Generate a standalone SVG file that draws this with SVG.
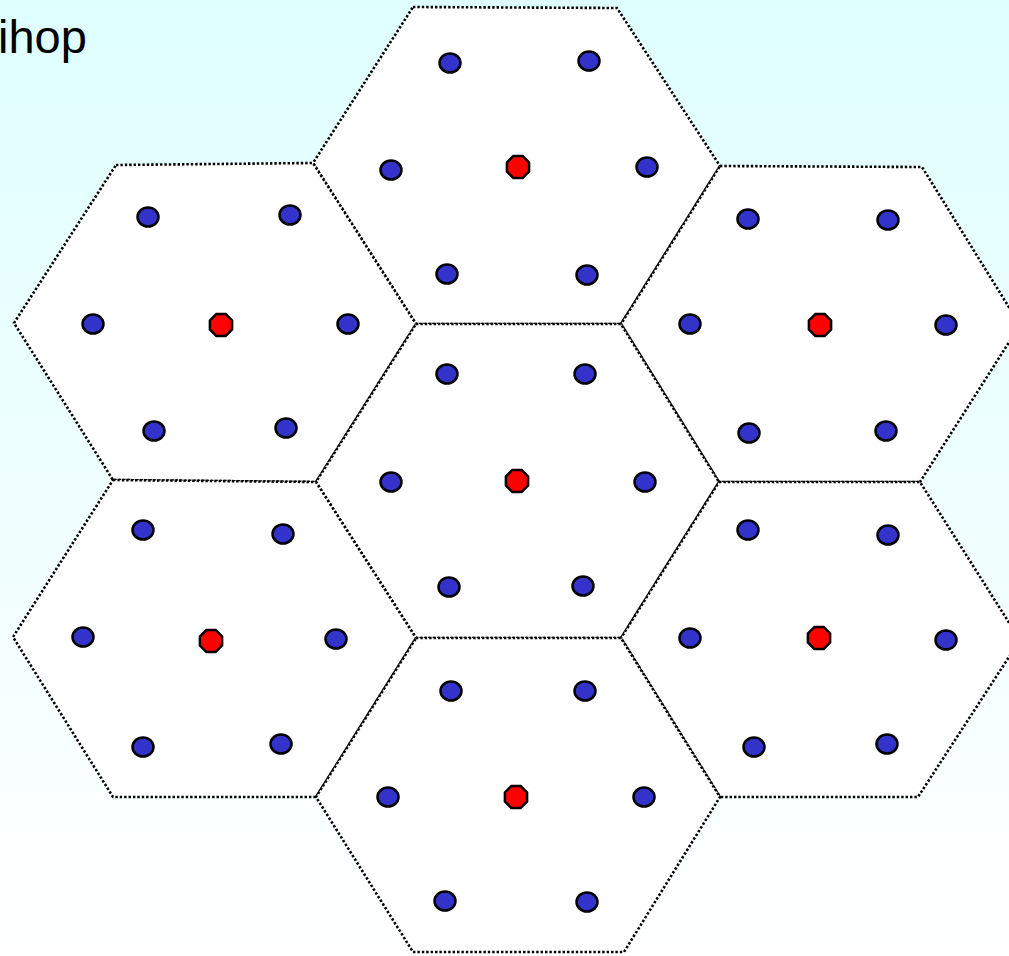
<svg xmlns="http://www.w3.org/2000/svg" width="1009" height="956" viewBox="0 0 1009 956">
<defs>
<linearGradient id="bg" x1="0" y1="0" x2="0" y2="1">
<stop offset="0" stop-color="#DFFFFF"/>
<stop offset="1" stop-color="#FFFFFF"/>
</linearGradient>
<style>
.hex{fill:#FFFFFF;stroke:#000;stroke-width:2.6;stroke-dasharray:2.4 2;}
.node{fill:#3333CC;stroke:#000;stroke-width:2.5;}
.head{fill:#FF0000;stroke:#000;stroke-width:2.5;}
.lbl{font-family:"Liberation Sans",Arial,sans-serif;font-size:47px;fill:#000;}
</style>
<polygon id="oct" points="4.6,-11.1 11.1,-4.6 11.1,4.6 4.6,11.1 -4.6,11.1 -11.1,4.6 -11.1,-4.6 -4.6,-11.1"/>
</defs>
<rect x="0" y="0" width="1009" height="956" fill="url(#bg)"/>
<text class="lbl" x="-2" y="53">ihop</text>

<g id="hex-top">
<polygon class="hex" points="413,7 617,8 720,166 621,324 416,324 313,163"/>
<ellipse class="node" cx="450" cy="63" rx="10.5" ry="9.5"/>
<ellipse class="node" cx="589" cy="61" rx="10.5" ry="9.5"/>
<ellipse class="node" cx="391" cy="170" rx="10.5" ry="9.5"/>
<ellipse class="node" cx="647" cy="167" rx="10.5" ry="9.5"/>
<ellipse class="node" cx="447" cy="274" rx="10.5" ry="9.5"/>
<ellipse class="node" cx="587" cy="275" rx="10.5" ry="9.5"/>
<use href="#oct" class="head" x="518" y="167"/>
</g>

<g id="hex-left-top">
<polygon class="hex" points="116,165 313,163 416,324 316,482 113,480 14,323"/>
<ellipse class="node" cx="148" cy="217" rx="10.5" ry="9.5"/>
<ellipse class="node" cx="290" cy="215" rx="10.5" ry="9.5"/>
<ellipse class="node" cx="93" cy="324" rx="10.5" ry="9.5"/>
<ellipse class="node" cx="348" cy="324" rx="10.5" ry="9.5"/>
<ellipse class="node" cx="154" cy="431" rx="10.5" ry="9.5"/>
<ellipse class="node" cx="286" cy="428" rx="10.5" ry="9.5"/>
<use href="#oct" class="head" x="221" y="325"/>
</g>

<g id="hex-right-top">
<polygon class="hex" points="720,166 922,167 1020,325 920,482 719,482 621,324"/>
<ellipse class="node" cx="748" cy="219" rx="10.5" ry="9.5"/>
<ellipse class="node" cx="888" cy="220" rx="10.5" ry="9.5"/>
<ellipse class="node" cx="690" cy="324" rx="10.5" ry="9.5"/>
<ellipse class="node" cx="946" cy="325" rx="10.5" ry="9.5"/>
<ellipse class="node" cx="749" cy="433" rx="10.5" ry="9.5"/>
<ellipse class="node" cx="886" cy="431" rx="10.5" ry="9.5"/>
<use href="#oct" class="head" x="820" y="325"/>
</g>

<g id="hex-center">
<polygon class="hex" points="416,324 621,324 719,482 621,638 416,638 316,482"/>
<ellipse class="node" cx="447" cy="374" rx="10.5" ry="9.5"/>
<ellipse class="node" cx="585" cy="374" rx="10.5" ry="9.5"/>
<ellipse class="node" cx="391" cy="482" rx="10.5" ry="9.5"/>
<ellipse class="node" cx="645" cy="482" rx="10.5" ry="9.5"/>
<ellipse class="node" cx="449" cy="587" rx="10.5" ry="9.5"/>
<ellipse class="node" cx="583" cy="586" rx="10.5" ry="9.5"/>
<use href="#oct" class="head" x="517" y="481"/>
</g>

<g id="hex-left-bottom">
<polygon class="hex" points="113,480 316,482 416,638 316,797 113,797 13,637"/>
<ellipse class="node" cx="143" cy="530" rx="10.5" ry="9.5"/>
<ellipse class="node" cx="283" cy="534" rx="10.5" ry="9.5"/>
<ellipse class="node" cx="83" cy="637" rx="10.5" ry="9.5"/>
<ellipse class="node" cx="336" cy="639" rx="10.5" ry="9.5"/>
<ellipse class="node" cx="143" cy="747" rx="10.5" ry="9.5"/>
<ellipse class="node" cx="281" cy="744" rx="10.5" ry="9.5"/>
<use href="#oct" class="head" x="211" y="641"/>
</g>

<g id="hex-right-bottom">
<polygon class="hex" points="719,482 920,482 1020,640 918,797 720,797 621,638"/>
<ellipse class="node" cx="748" cy="530" rx="10.5" ry="9.5"/>
<ellipse class="node" cx="888" cy="535" rx="10.5" ry="9.5"/>
<ellipse class="node" cx="690" cy="638" rx="10.5" ry="9.5"/>
<ellipse class="node" cx="946" cy="640" rx="10.5" ry="9.5"/>
<ellipse class="node" cx="754" cy="747" rx="10.5" ry="9.5"/>
<ellipse class="node" cx="887" cy="744" rx="10.5" ry="9.5"/>
<use href="#oct" class="head" x="819" y="638"/>
</g>

<g id="hex-bottom">
<polygon class="hex" points="416,638 621,638 720,797 624,952 413,952 316,797"/>
<ellipse class="node" cx="451" cy="691" rx="10.5" ry="9.5"/>
<ellipse class="node" cx="585" cy="691" rx="10.5" ry="9.5"/>
<ellipse class="node" cx="388" cy="797" rx="10.5" ry="9.5"/>
<ellipse class="node" cx="644" cy="797" rx="10.5" ry="9.5"/>
<ellipse class="node" cx="445" cy="901" rx="10.5" ry="9.5"/>
<ellipse class="node" cx="587" cy="902" rx="10.5" ry="9.5"/>
<use href="#oct" class="head" x="516" y="797"/>
</g>

<g id="connectors"></g>
</svg>
